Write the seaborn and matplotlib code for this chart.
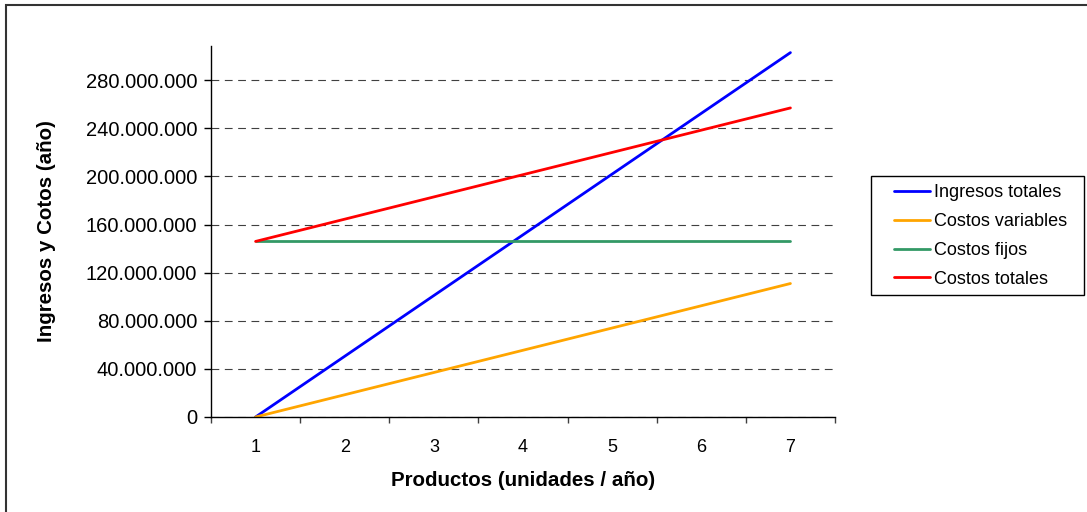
import matplotlib
matplotlib.use("Agg")
import matplotlib.pyplot as plt
import pandas as pd
import seaborn as sns
from matplotlib.lines import Line2D
from matplotlib.patches import Rectangle
from matplotlib.ticker import FuncFormatter

# Break-even data (units per year vs. yearly amounts)
productos = ["1", "2", "3", "4", "5", "6", "7"]
ingresos_totales = [0, 50_500_000, 101_000_000, 151_500_000, 202_000_000, 252_500_000, 303_000_000]
costos_variables = [0, 18_500_000, 37_000_000, 55_500_000, 74_000_000, 92_500_000, 111_000_000]
costos_fijos = [146_000_000, 146_000_000, 146_000_000, 146_000_000, 146_000_000, 146_000_000, 146_000_000]
costos_totales = [146_000_000, 164_500_000, 183_000_000, 201_500_000, 220_000_000, 238_500_000, 257_000_000]

series_names = ["Ingresos totales", "Costos variables", "Costos fijos", "Costos totales"]
series_values = [ingresos_totales, costos_variables, costos_fijos, costos_totales]
series_colors = ["#0000FF", "#FFA500", "#339966", "#FF0000"]
y_ticks = [0, 40_000_000, 80_000_000, 120_000_000, 160_000_000, 200_000_000, 240_000_000, 280_000_000]

rows = []
for name, vals in zip(series_names, series_values):
    for i, (p, v) in enumerate(zip(productos, vals)):
        rows.append({"pos": i, "producto": p, "serie": name, "valor": v})
df = pd.DataFrame(rows)

sns.set_theme(style="white")
plt.rcParams["font.family"] = ["Liberation Sans", "DejaVu Sans"]
plt.rcParams["text.color"] = "black"
plt.rcParams["axes.labelcolor"] = "black"
plt.rcParams["xtick.color"] = "black"
plt.rcParams["ytick.color"] = "black"

W, H = 1087, 512
fig = plt.figure(figsize=(W / 100, H / 100), dpi=100)
fig.patch.set_facecolor("white")

ax = fig.add_axes([211 / W, 1 - 417 / H, (835 - 211) / W, (417 - 46) / H])
palette = dict(zip(series_names, series_colors))
sns.lineplot(data=df, x="pos", y="valor", hue="serie", hue_order=series_names,
             palette=palette, linewidth=2.0, ax=ax, legend=False, sort=False)

ax.set_xlim(-0.5, len(productos) - 0.5)
ax.set_ylim(0, 308_500_000)

# category labels at centers, tick marks at category boundaries
ax.set_xticks(range(len(productos)))
ax.set_xticklabels(productos)
ax.set_xticks([i - 0.5 for i in range(len(productos) + 1)], minor=True)
ax.tick_params(axis="x", which="major", length=0, pad=16, labelsize=13, labelcolor="black")
ax.tick_params(axis="x", which="minor", length=4.5, width=1, direction="out",
               color="#404040", bottom=True)

ax.set_yticks(y_ticks)
ax.yaxis.set_major_formatter(FuncFormatter(lambda v, _: f"{int(v):,}".replace(",", ".")))
ax.tick_params(axis="y", which="major", length=5, width=1, direction="out",
               color="black", pad=5, labelsize=14.5, labelcolor="black", left=True)

ax.yaxis.grid(True, color="#404040", linewidth=0.8, linestyle=(0, (7, 5)))
ax.xaxis.grid(False)
ax.set_axisbelow(True)

for side in ("top", "right"):
    ax.spines[side].set_visible(False)
for side in ("left", "bottom"):
    ax.spines[side].set_color("black")
    ax.spines[side].set_linewidth(1.0)

ax.set_xlabel("Productos (unidades / año)", fontsize=14.8, fontweight="bold",
              labelpad=11, color="black")
ax.set_ylabel("Ingresos y Cotos (año)", fontsize=14.8, fontweight="bold",
              labelpad=21, color="black")

# legend box drawn as a plain rectangle, entries placed inside it
fig.patches.append(Rectangle((871 / W, 1 - 295 / H), 213 / W, 119 / H,
                             transform=fig.transFigure, fill=False,
                             edgecolor="black", linewidth=1.0))
handles = [Line2D([0], [0], color=c, linewidth=2.0) for c in series_colors]
fig.legend(handles, series_names, loc="upper left",
           bbox_to_anchor=(894 / W, 1 - 184 / H),
           frameon=False, fontsize=13, handlelength=2.0, handletextpad=0.22,
           labelspacing=0.66, borderpad=0, borderaxespad=0, labelcolor="black")

# chart-area frame
fig.patches.append(Rectangle((6 / W, -0.1), 1.2, 1.1 - 5 / H, transform=fig.transFigure,
                             fill=False, edgecolor="#333333", linewidth=1.5))

fig.savefig("out.png", dpi=100)
